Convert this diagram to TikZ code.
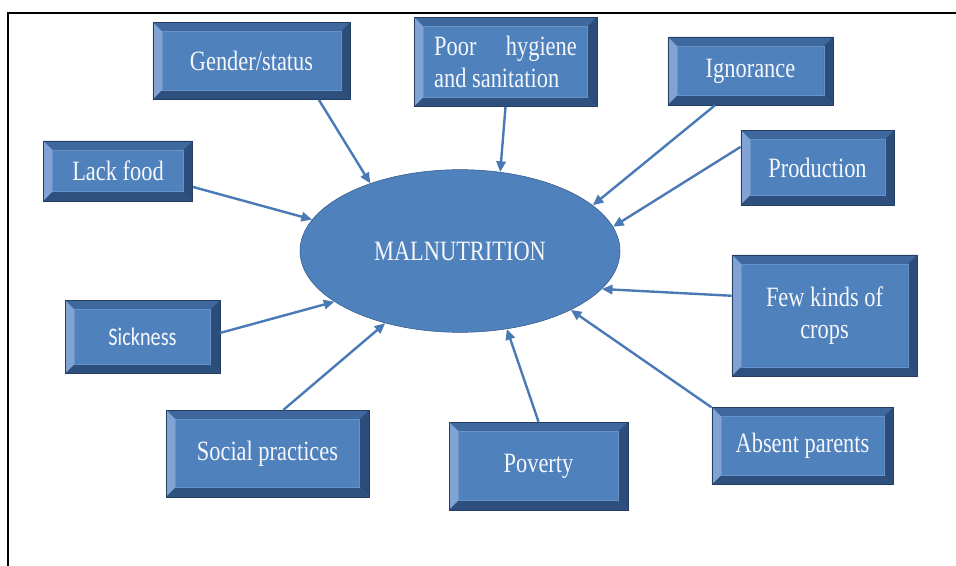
\documentclass[tikz,border=0pt]{standalone}
\usepackage{fontspec}
\usetikzlibrary{arrows.meta,shapes.geometric}

\newfontfamily\causefont{Liberation Serif}[FakeStretch=0.8]
\newfontfamily\causesans{Carlito}[FakeStretch=0.8]

\definecolor{causeblue}{RGB}{79,129,189}
\definecolor{bevellight}{RGB}{128,163,212}
\definecolor{bevelmid}{RGB}{62,104,158}
\definecolor{beveldark}{RGB}{44,77,122}
\definecolor{causeedge}{RGB}{36,62,98}
\definecolor{hubedge}{RGB}{52,88,135}
\definecolor{arrowblue}{RGB}{74,122,182}

\begin{document}
\begin{tikzpicture}[
  x=0.75pt, y=-0.75pt,
  cause/.style={draw=causeedge, fill=causeblue, text=white!94!causeblue, align=center, inner sep=4pt,
    font=\causefont\fontsize{21}{24}\selectfont,
    path picture={
      \path (path picture bounding box.south west) coordinate (bsw)
            (path picture bounding box.north east) coordinate (bne)
            (path picture bounding box.north west) coordinate (bnw)
            (path picture bounding box.south east) coordinate (bse);
      % bevel faces: top, left, right, bottom
      \fill[bevelmid] (bnw) -- (bne) -- ([shift={(-7pt,-7pt)}]bne) -- ([shift={(7pt,-7pt)}]bnw) -- cycle;
      \fill[bevellight] (bnw) -- ([shift={(7pt,-7pt)}]bnw) -- ([shift={(7pt,7pt)}]bsw) -- (bsw) -- cycle;
      \fill[beveldark] (bne) -- (bse) -- ([shift={(-7pt,7pt)}]bse) -- ([shift={(-7pt,-7pt)}]bne) -- cycle;
      \fill[beveldark!90!bevelmid] (bsw) -- ([shift={(7pt,7pt)}]bsw) -- ([shift={(-7pt,7pt)}]bse) -- (bse) -- cycle;
      \draw[bevellight!50!causeblue, line width=0.5pt] ([shift={(7pt,7pt)}]bsw) rectangle ([shift={(-7pt,-7pt)}]bne);
    }},
  hub/.style={ellipse, draw=hubedge, fill=causeblue, text=white!94!causeblue, inner sep=0pt,
    minimum width=240pt, minimum height=122pt, font=\causefont\fontsize{21}{24}\selectfont},
  arrow/.style={-{Triangle[length=8pt,width=7pt]}, draw=arrowblue, fill=arrowblue, line width=1.8pt}
]
\useasboundingbox (0,0) rectangle (956,566);
\draw[line width=2.2pt] (8,566) -- (8,13) -- (956,13);

\node[hub] (mal) at (460,251) {MALNUTRITION};

% causes round the hub
\node[cause, minimum width=148pt, minimum height=58pt] (gender) at (251.5,61) {Gender/status};
\node[cause, minimum width=137pt, minimum height=67pt, text width=107pt, align=justify] (hygiene) at (505.5,62) {Poor hygiene and sanitation};
\node[cause, minimum width=124pt, minimum height=51pt] (ignorance) at (750.5,71) {Ignorance};
\node[cause, minimum width=115pt, minimum height=56pt] (production) at (817.5,167.5) {Production};
\node[cause, minimum width=112pt, minimum height=45pt] (lackfood) at (118,171) {Lack food};
\node[cause, minimum width=139pt, minimum height=91pt] (crops) at (824.5,315.5) {Few kinds of\\crops};
\node[cause, minimum width=116pt, minimum height=55pt, font=\causesans\fontsize{19}{22}\selectfont] (sickness) at (142.5,337) {Sickness};
\node[cause, minimum width=152pt, minimum height=65pt] (social) at (267.5,453.5) {Social practices};
\node[cause, minimum width=134pt, minimum height=66pt] (poverty) at (538.5,466) {Poverty};
\node[cause, minimum width=136pt, minimum height=58pt] (absent) at (802.5,446) {Absent parents};

\foreach \src/\from/\to in {gender/330/143, hygiene/270/63, ignorance/224/19, production/165/9,
    lackfood/348/168, crops/168/345, sickness/3/202, social/70/224, poverty/90/301, absent/157/332}
  {\draw[arrow] (\src.\from) -- (mal.\to);}
\end{tikzpicture}
\end{document}
